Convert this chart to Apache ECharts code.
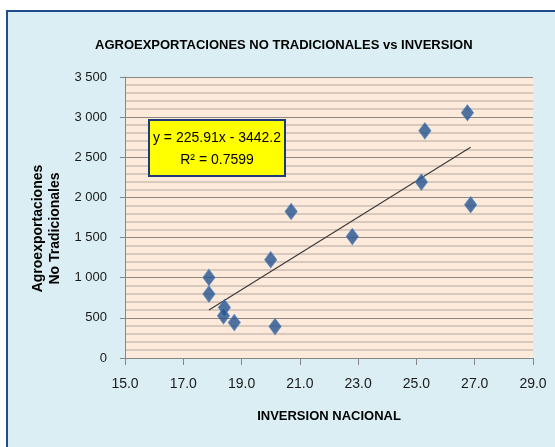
<!DOCTYPE html>
<html>
<head>
<meta charset="utf-8">
<title>Agroexportaciones no tradicionales vs inversion</title>
<script src="https://cdn.jsdelivr.net/npm/echarts/dist/echarts.min.js"></script>
<style>
  html, body { margin: 0; padding: 0; background: #ffffff; }
  #chart { width: 555px; height: 447px; }
</style>
</head>
<body>
<div id="chart"></div>
<script>
// datos
const inversion = [17.88, 17.88, 18.41, 18.38, 18.75, 20.0, 20.15, 20.7, 22.8, 25.17, 25.29, 26.75, 26.86]
const agroexport = [1004, 796, 629, 525, 441, 1225, 391, 1825, 1512, 2191, 2829, 3054, 1909]

// linea de tendencia (ecuacion mostrada en el grafico)
const slope = 225.91
const intercept = -3442.2
const r2 = 0.7599

const fontName = 'Liberation Sans'

const points = inversion.map((x, i) => [x, agroexport[i]])
const xMin = Math.min(...inversion)
const xMax = Math.max(...inversion)
const trend = [xMin, xMax].map(x => [x, slope * x + intercept])

const thousands = v => String(v).replace(/\B(?=(\d{3})+(?!\d))/g, ' ')

const chart = echarts.init(document.getElementById('chart'))
const option = {
  animation: false,
  textStyle: { fontFamily: fontName },
  graphic: [
    { // fondo celeste con borde azul
      type: 'rect',
      z: -10,
      shape: { x: 7, y: 11, width: 560, height: 450 },
      style: { fill: '#DAEEF3', stroke: '#1F4E8C', lineWidth: 2 }
    },
    // cuadro de la ecuacion
    {
      type: 'rect',
      z: 100,
      shape: { x: 149, y: 120, width: 136, height: 56 },
      style: { fill: '#FFFF00', stroke: '#1F3A78', lineWidth: 2 }
    },
    {
      type: 'text',
      z: 101,
      x: 217,
      y: 138,
      style: {
        text: 'y = ' + slope + 'x - ' + Math.abs(intercept),
        font: '14px ' + fontName,
        fill: '#000',
        textAlign: 'center',
        textVerticalAlign: 'middle'
      }
    },
    {
      type: 'text',
      z: 101,
      x: 217,
      y: 160,
      style: {
        text: 'R\u00B2 = ' + r2,
        font: '14px ' + fontName,
        fill: '#000',
        textAlign: 'center',
        textVerticalAlign: 'middle'
      }
    }
  ],
  title: {
    text: 'AGROEXPORTACIONES NO TRADICIONALES vs INVERSION',
    left: 95,
    top: 39,
    padding: 0,
    textStyle: { fontSize: 13, fontWeight: 'bold', color: '#000', fontFamily: fontName }
  },
  grid: {
    left: 125,
    right: 22,
    top: 77,
    bottom: 89,
    show: true,
    backgroundColor: '#FDEADA',
    borderWidth: 0
  },
  xAxis: {
    type: 'value',
    min: 15,
    max: 29,
    interval: 2,
    name: 'INVERSION NACIONAL',
    nameLocation: 'middle',
    nameGap: 52,
    nameTextStyle: { fontSize: 13, fontWeight: 'bold', color: '#000' },
    axisLine: { show: true, lineStyle: { color: '#868686', width: 1 } },
    axisTick: { show: true, length: 7, lineStyle: { color: '#868686' } },
    axisLabel: {
      fontSize: 14,
      color: '#1a1a1a',
      margin: 19,
      formatter: v => v.toFixed(1)
    },
    splitLine: { show: false }
  },
  yAxis: {
    type: 'value',
    min: 0,
    max: 3500,
    interval: 500,
    name: 'Agroexportaciones\nNo Tradicionales',
    nameLocation: 'middle',
    nameGap: 61,
    nameTextStyle: {
      fontSize: 14,
      fontWeight: 'bold',
      color: '#000',
      lineHeight: 17,
      padding: [0, 22, 0, 0]
    },
    axisLine: { show: true, lineStyle: { color: '#868686', width: 1 } },
    axisTick: { show: true, length: 5, lineStyle: { color: '#868686' } },
    axisLabel: {
      fontSize: 13,
      color: '#1a1a1a',
      margin: 18,
      formatter: thousands
    },
    minorTick: { show: false, splitNumber: 5 },
    minorSplitLine: { show: true, lineStyle: { color: '#CBBFB5', width: 1.5 } },
    splitLine: { show: true, lineStyle: { color: '#8E8883', width: 1 } }
  },
  series: [
    {
      name: 'Agroexportaciones',
      type: 'scatter',
      symbol: 'diamond',
      symbolSize: [12, 16],
      z: 5,
      itemStyle: {
        color: '#24528E',
        borderColor: '#4A7DBA',
        borderWidth: 1
      },
      data: points
    },
    {
      name: 'Tendencia',
      type: 'line',
      symbol: 'none',
      z: 4,
      lineStyle: { color: '#3C3C3C', width: 1.2 },
      data: trend
    }
  ]
}
chart.setOption(option)
</script>
</body>
</html>
